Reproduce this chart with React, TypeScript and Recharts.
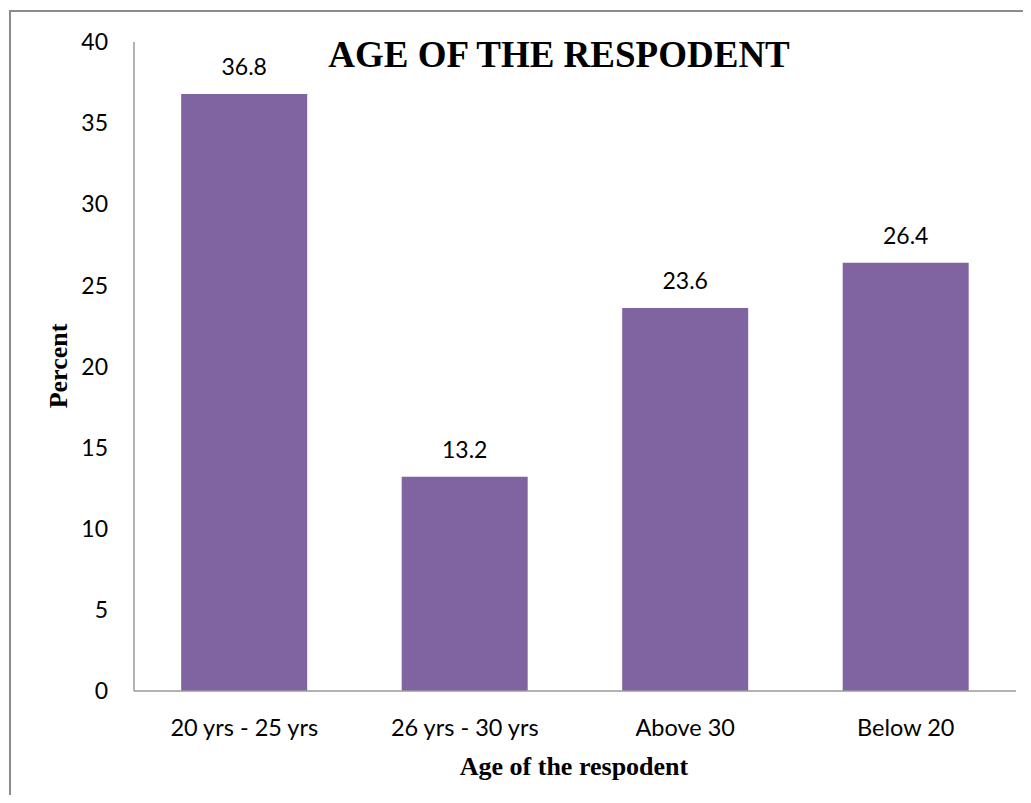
import React from "react";
import { BarChart, Bar, XAxis, YAxis, LabelList, Customized } from "recharts";

// Age groups of the respondents and their share in percent
const categories = ["20 yrs - 25 yrs", "26 yrs - 30 yrs", "Above 30", "Below 20"];
const percents = [36.8, 13.2, 23.6, 26.4];
const yTicks = [0, 5, 10, 15, 20, 25, 30, 35, 40];

const data = categories.map((name, i) => ({ name, value: percents[i] }));

const TICK_FONT = "Lato, 'Open Sans', sans-serif";
const LABEL_FONT = "'Liberation Serif', 'Times New Roman', serif";
const AXIS_COLOR = "#9a9a9a";

const ChartTexts = () => (
  <g>
    <text x={559} y={67} textAnchor="middle" fontFamily={LABEL_FONT} fontWeight="bold" fontSize={37} fill="#000">
      AGE OF THE RESPODENT
    </text>
    <text x={574} y={775} textAnchor="middle" fontFamily={LABEL_FONT} fontWeight="bold" fontSize={26} fill="#000">
      Age of the respodent
    </text>
    <text
      x={67}
      y={366}
      textAnchor="middle"
      fontFamily={LABEL_FONT}
      fontWeight="bold"
      fontSize={26}
      fill="#000"
      transform="rotate(-90 67 366)"
    >
      Percent
    </text>
  </g>
);

export default function App() {
  return (
    <div style={{ margin: -8, position: "relative", width: 1031, height: 803, overflow: "hidden", background: "#fff" }}>
      <div
        style={{
          position: "absolute",
          left: 9,
          top: 10,
          width: 1100,
          height: 900,
          borderTop: "2px solid #8c8c8c",
          borderLeft: "2px solid #8c8c8c",
          boxSizing: "border-box",
        }}
      />
      <div style={{ position: "absolute", left: 0, top: 0 }}>
        <BarChart
          width={1031}
          height={803}
          data={data}
          margin={{ top: 42, right: 15, bottom: 62, left: 74 }}
          barCategoryGap="21.4%"
        >
          <XAxis
            dataKey="name"
            height={50}
            axisLine={{ stroke: AXIS_COLOR, strokeWidth: 1.5 }}
            tickLine={false}
            tickSize={0}
            tickMargin={28}
            tick={{ fill: "#000", fontSize: 23.5, fontFamily: TICK_FONT }}
            interval={0}
          />
          <YAxis
            width={60}
            domain={[0, 40]}
            ticks={yTicks}
            axisLine={{ stroke: AXIS_COLOR, strokeWidth: 1.5 }}
            tickLine={false}
            tickSize={0}
            tickMargin={26}
            tick={{ fill: "#000", fontSize: 23, fontFamily: TICK_FONT }}
          />
          <Bar dataKey="value" fill="#8064A2" isAnimationActive={false}>
            <LabelList
              dataKey="value"
              position="top"
              offset={19}
              fill="#000"
              fontSize={23}
              fontFamily={TICK_FONT}
            />
          </Bar>
          <Customized component={ChartTexts} />
        </BarChart>
      </div>
    </div>
  );
}
